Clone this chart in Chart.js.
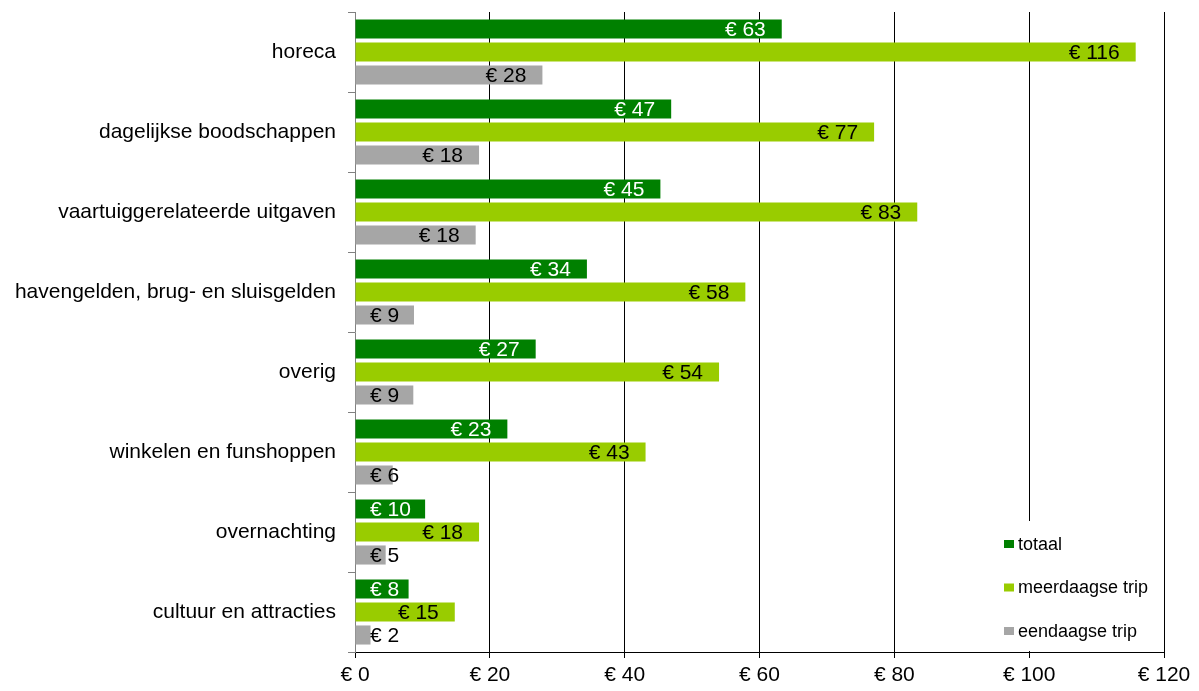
<!DOCTYPE html>
<html>
<head>
<meta charset="utf-8">
<script src="https://cdn.jsdelivr.net/npm/chart.js@4.4.1/dist/chart.umd.min.js"></script>
<style>
  html, body { margin: 0; padding: 0; background: #fff; }
  #wrap { width: 1199px; height: 691px; }
</style>
</head>
<body>
<div id="wrap"><canvas id="spendChart"></canvas></div>
<script>
// categories and series
const categories = [
  "horeca",
  "dagelijkse boodschappen",
  "vaartuiggerelateerde uitgaven",
  "havengelden, brug- en sluisgelden",
  "overig",
  "winkelen en funshoppen",
  "overnachting",
  "cultuur en attracties"
];
const totaal = [63.3, 46.9, 45.3, 34.4, 26.8, 22.6, 10.4, 7.95];
const meerdaagse = [115.8, 77.0, 83.4, 57.9, 54.0, 43.1, 18.4, 14.8];
const eendaagse = [27.8, 18.4, 17.9, 8.75, 8.65, 5.6, 4.55, 2.3];
const seriesNames = ["totaal", "meerdaagse trip", "eendaagse trip"];
const xTicks = [0, 20, 40, 60, 80, 100, 120];

const colors = ["#008000", "#99CC00", "#A6A6A6"];
const labelColors = ["#ffffff", "#000000", "#000000"];
const FONT = "'Liberation Sans', Arial, sans-serif";

// value labels at the inner end of each bar
const barLabels = {
  id: "barLabels",
  afterDatasetsDraw(chart) {
    const ctx = chart.ctx;
    const x0 = chart.scales.x.getPixelForValue(0);
    ctx.save();
    ctx.font = "21px " + FONT;
    ctx.textBaseline = "middle";
    ctx.textAlign = "left";
    chart.data.datasets.forEach((ds, i) => {
      chart.getDatasetMeta(i).data.forEach((bar, j) => {
        const txt = "€ " + Math.round(ds.data[j]);
        const w = ctx.measureText(txt).width;
        const x = Math.max(x0 + 15, bar.x - 16 - w);
        ctx.fillStyle = labelColors[i];
        ctx.fillText(txt, x, bar.y + 1);
      });
    });
    ctx.restore();
  }
};

// legend box in the bottom right corner of the plot
const cornerLegend = {
  id: "cornerLegend",
  afterDraw(chart) {
    const ctx = chart.ctx;
    const area = chart.chartArea;
    const left = area.right - 164;
    const top = area.bottom - 131;
    ctx.save();
    ctx.fillStyle = "#fff";
    ctx.fillRect(left, top, 162, 130);
    ctx.font = "18px " + FONT;
    ctx.textBaseline = "middle";
    ctx.textAlign = "left";
    chart.data.datasets.forEach((ds, i) => {
      const y = top + 23 + i * 43.5;
      ctx.fillStyle = ds.backgroundColor;
      ctx.fillRect(left + 4, y - 4, 10, 8);
      ctx.fillStyle = "#000";
      ctx.fillText(ds.label, left + 18, y + 1);
    });
    ctx.restore();
  }
};

const ctx = document.getElementById("spendChart").getContext("2d");

new Chart(ctx, {
  type: "bar",
  data: {
    labels: categories,
    datasets: [
      { label: seriesNames[0], data: totaal, backgroundColor: colors[0] },
      { label: seriesNames[1], data: meerdaagse, backgroundColor: colors[1] },
      { label: seriesNames[2], data: eendaagse, backgroundColor: colors[2] }
    ]
  },
  options: {
    indexAxis: "y",
    responsive: true,
    maintainAspectRatio: false,
    animation: false,
    devicePixelRatio: 1,
    categoryPercentage: 0.8625,
    barPercentage: 0.83,
    layout: { padding: { top: 12, right: 35, bottom: 0, left: 0 } },
    plugins: {
      legend: { display: false },
      tooltip: { enabled: false }
    },
    scales: {
      x: {
        min: 0,
        max: 120,
        afterBuildTicks: axis => { axis.ticks = xTicks.map(v => ({ value: v })); },
        afterFit: scale => { scale.height = 39; },
        border: { color: "#000", width: 1 },
        grid: {
          color: c => (c.tick && c.tick.value === 0 ? "rgba(0,0,0,0)" : "#000"),
          tickColor: "#000",
          tickLength: 6,
          lineWidth: 1
        },
        ticks: {
          color: "#000",
          font: { family: FONT, size: 21 },
          padding: 5,
          maxRotation: 0,
          callback: v => "€ " + v
        }
      },
      y: {
        afterFit: scale => {
          scale.width = 355;
          scale.paddingTop = 0;
          scale.paddingBottom = 0;
        },
        border: { color: "#808080", width: 1 },
        grid: {
          offset: true,
          drawOnChartArea: false,
          color: "#808080",
          tickLength: 7
        },
        ticks: {
          color: "#000",
          font: { family: FONT, size: 21 },
          padding: 12
        }
      }
    }
  },
  plugins: [barLabels, cornerLegend]
});
</script>
</body>
</html>
